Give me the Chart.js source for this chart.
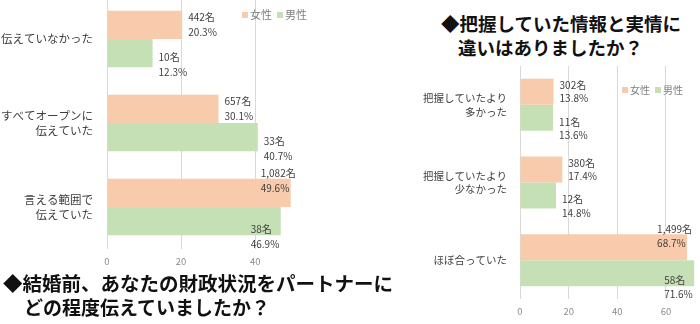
<!DOCTYPE html>
<html>
<head>
<meta charset="utf-8">
<script src="https://cdn.jsdelivr.net/npm/chart.js@4"></script>
<style>
  body { margin: 0; width: 700px; height: 324px; overflow: hidden; background: #fff; position: relative;
         font-family: "Noto Sans CJK JP", sans-serif; }
  .box { position: absolute; }
  .title { position: absolute; font-weight: bold; color: #111; white-space: nowrap; line-height: 24px; }
</style>
</head>
<body>
<div class="box" style="left:0;top:-3px;width:345px;height:274px;"><canvas id="chartA"></canvas></div>
<div class="box" style="left:350px;top:66px;width:350px;height:255px;"><canvas id="chartB"></canvas></div>

<div class="title" style="left:3px;top:271px;font-size:19.5px;">◆結婚前、あなたの財政状況をパートナーに</div>
<div class="title" style="left:24px;top:295px;font-size:19px;">どの程度伝えていましたか？</div>
<div class="title" style="left:441px;top:11px;font-size:18.5px;">◆把握していた情報と実情に</div>
<div class="title" style="left:458px;top:35px;font-size:18.5px;">違いはありましたか？</div>

<script>
// left chart: 結婚前の財政状況
const categoriesA = [['伝えていなかった'], ['すべてオープンに', '伝えていた'], ['言える範囲で', '伝えていた']];
const femalePctA = [20.3, 30.1, 49.6];
const malePctA = [12.3, 40.7, 46.9];
const femaleCountA = ['442', '657', '1,082'];
const maleCountA = ['10', '33', '38'];
const ticksA = [0, 20, 40];

// right chart: 情報と実情の違い
const categoriesB = [['把握していたより', '多かった'], ['把握していたより', '少なかった'], ['ほぼ合っていた']];
const femalePctB = [13.8, 17.4, 68.7];
const malePctB = [13.6, 14.8, 71.6];
const femaleCountB = ['302', '380', '1,499'];
const maleCountB = ['11', '12', '58'];
const ticksB = [0, 20, 40, 60];

const seriesNames = ['女性', '男性'];
const femaleColor = '#F8CBAD';
const maleColor = '#C5E0B4';
const font = '"Noto Sans CJK JP", sans-serif';

// "442名 / 20.3%" next to each bar
const barLabels = {
    id: 'barLabels',
    afterDatasetsDraw(chart, args, opts) {
        const ctx = chart.ctx;
        ctx.save();
        ctx.font = '10px ' + font;
        ctx.fillStyle = '#404040';
        ctx.textAlign = 'left';
        ctx.textBaseline = 'middle';
        chart.data.datasets.forEach((ds, di) => {
            chart.getDatasetMeta(di).data.forEach((bar, i) => {
                const v = ds.data[i];
                const long = v > 45;
                const x = long ? bar.x - 30 : bar.x + 6;
                let dy;
                if (di === 0) dy = long ? [-1.3, -0.3] : [-0.5, 0.5];
                else dy = long ? [0.55, 1.55] : [0.3, 1.3];
                const lines = [ds.counts[i] + '名', v.toFixed(1) + '%'];
                lines.forEach((t, li) => ctx.fillText(t, x, bar.y + dy[li] * opts.lineGap));
            });
        });
        ctx.restore();
    }
};

// small legend inside the plot
const cornerLegend = {
    id: 'cornerLegend',
    afterDraw(chart, args, opts) {
        const ctx = chart.ctx;
        ctx.save();
        ctx.font = opts.size + 'px ' + font;
        ctx.textBaseline = 'middle';
        let x = opts.x;
        chart.data.datasets.forEach(ds => {
            ctx.fillStyle = ds.backgroundColor;
            ctx.fillRect(x, opts.y - 3, 6, 6);
            x += 8;
            ctx.fillStyle = '#7f7f7f';
            ctx.fillText(ds.label, x, opts.y);
            x += ctx.measureText(ds.label).width + 5;
        });
        ctx.restore();
    }
};

function makeChart(id, labels, female, male, femaleCounts, maleCounts, tickList, cfg) {
    return new Chart(document.getElementById(id), {
        type: 'bar',
        data: {
            labels: labels,
            datasets: [
                { label: seriesNames[0], data: female, counts: femaleCounts, backgroundColor: femaleColor },
                { label: seriesNames[1], data: male, counts: maleCounts, backgroundColor: maleColor }
            ]
        },
        options: {
            indexAxis: 'y',
            responsive: true,
            maintainAspectRatio: false,
            animation: false,
            layout: { padding: { right: cfg.padRight, top: 0, bottom: 0, left: 0 } },
            categoryPercentage: 0.67,
            barPercentage: 1,
            plugins: {
                legend: { display: false },
                tooltip: { enabled: false },
                barLabels: { lineGap: cfg.lineGap },
                cornerLegend: cfg.legend
            },
            scales: {
                x: {
                    min: 0,
                    max: cfg.max,
                    grid: { color: '#d9d9d9', drawTicks: false },
                    border: { display: false },
                    ticks: { color: '#8c8c8c', font: { family: font, size: 9.5 }, padding: 7 },
                    afterBuildTicks: s => { s.ticks = tickList.map(v => ({ value: v })); },
                    afterFit: s => { s.height = 22; s.paddingLeft = 0; s.paddingRight = 0; }
                },
                y: {
                    grid: { display: false, drawTicks: false },
                    border: { display: false },
                    ticks: { color: '#404040', font: { family: font, size: cfg.catSize, lineHeight: cfg.catLine }, padding: cfg.catPad },
                    afterFit: s => { s.width = cfg.axisWidth; s.paddingTop = 0; s.paddingBottom = 0; }
                }
            }
        },
        plugins: [barLabels, cornerLegend]
    });
}

makeChart('chartA', categoriesA, femalePctA, malePctA, femaleCountA, maleCountA, ticksA, {
    max: 57.5, padRight: 25, axisWidth: 107, catSize: 11.5, catLine: 1.35, catPad: 14,
    lineGap: 15, legend: { x: 242, y: 18, size: 11 }
});

makeChart('chartB', categoriesB, femalePctB, malePctB, femaleCountB, maleCountB, ticksB, {
    max: 74, padRight: 0, axisWidth: 170, catSize: 10.5, catLine: 1.3, catPad: 13,
    lineGap: 13.5, legend: { x: 272, y: 24, size: 10 }
});
</script>
</body>
</html>
